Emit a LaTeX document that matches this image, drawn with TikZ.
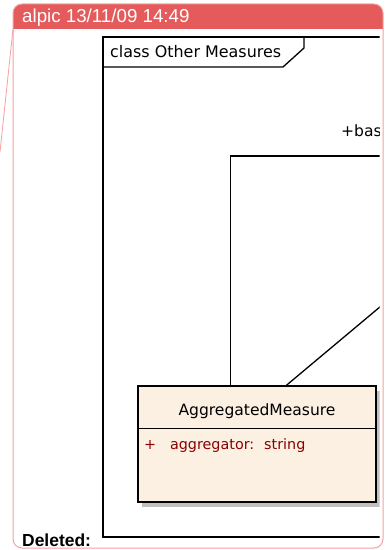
\documentclass[tikz,border=0pt]{standalone}
\usepackage{fontspec}
\setmainfont{Liberation Sans}
\newfontfamily\umlfont{DejaVu Sans}
\usetikzlibrary{calc,positioning}
\definecolor{notered}{HTML}{E55B5B}
\definecolor{noteline}{HTML}{F2A2A2}
\definecolor{classfill}{HTML}{FBF0E2}
\definecolor{attrred}{HTML}{8B0000}
\definecolor{shadowgray}{HTML}{C0C0C0}

\begin{document}
\begin{tikzpicture}[x=1bp,y=-1bp,
    umltext/.style={font=\umlfont\fontsize{15.6}{18}\selectfont,inner sep=0pt},
    attrtext/.style={font=\umlfont\fontsize{14.4}{17}\selectfont,text=attrred,inner sep=0pt,anchor=base west},
    classbox/.style={draw,line width=1.3bp,fill=classfill,minimum width=238bp,minimum height=116bp,inner sep=0pt},
    link/.style={line width=1.3bp}]
    \useasboundingbox (0,0) rectangle (385,550);
    % note
    \begin{scope}
        \clip[rounded corners=9bp] (13,4) rectangle (383,548);
        \fill[notered] (13,4) rectangle (383,29);
    \end{scope}
    \draw[noteline,line width=1bp,rounded corners=9bp] (13,4) rectangle (383,548);
    \coordinate (lead) at (13,29);
    \coordinate (leadend) at (0,152);
    \draw[noteline,line width=0.8bp] (lead) -- (leadend);
    \node[anchor=base west,text=white,font=\fontsize{18.8}{22}\selectfont,inner sep=0pt] (stamp) at (22,22.5) {alpic 13/11/09 14:49};
    \node[anchor=base west,font=\bfseries\fontsize{17.5}{20}\selectfont,inner sep=0pt] (deleted) at (22,546) {Deleted:};
    % diagram
    \begin{scope}
        \clip (0,0) rectangle (379.5,550);
        \draw[link] (103,37) rectangle (420,537);
        \draw[link] (103,67) -- (283,67) -- (304,48) -- (304,37);
        \node[umltext,font=\umlfont\fontsize{16}{18}\selectfont,anchor=base west] (frame) at (110,57.5) {class Other Measures};
        \fill[shadowgray] (142,391) rectangle (381,507);
        \node[classbox] (agg) at (257,444) {};
        \draw[link] ($(agg.north west)+(0,43)$) -- ($(agg.north east)+(0,43)$);
        \node[umltext,anchor=base] (aggname) at ($(agg.north)+(0,30.5)$) {AggregatedMeasure};
        \node[attrtext] (aggplus) at ($(agg.north west)+(6.5,64.5)$) {+};
        \node[attrtext] (aggattr) at ($(agg.north west)+(32.5,64.5)$) {aggregator:\hspace{10bp}string};
        \coordinate (linkin) at ($(agg.north west)+(93,0)$);
        \coordinate (linkturn) at (231,156);
        \coordinate (linkout) at (390,156);
        \draw[link] (linkin) -- (linkin |- linkturn) -- (linkout);
        \node[umltext,anchor=base west] (baselabel) at (341,137) {+base};
        \coordinate (diagin) at ($(agg.north west)+(149,0)$);
        \coordinate (diagout) at (390,298.5);
        \draw[link] (diagin) -- (diagout);
    \end{scope}
\end{tikzpicture}
\end{document}
